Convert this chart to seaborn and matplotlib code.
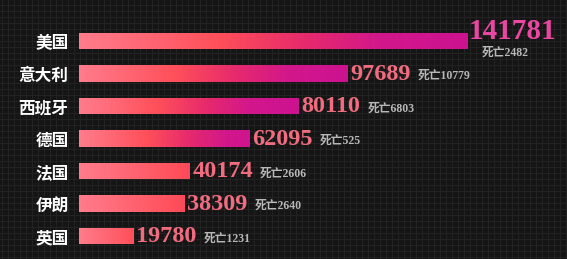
import numpy as np
import pandas as pd
import matplotlib
matplotlib.use("Agg")
import matplotlib.pyplot as plt
from matplotlib.colors import LinearSegmentedColormap
import seaborn as sns

countries = ["美国", "意大利", "西班牙", "德国", "法国", "伊朗", "英国"]
cases = [141781, 97689, 80110, 62095, 40174, 38309, 19780]
deaths = [2482, 10779, 6803, 525, 2606, 2640, 1231]

df = pd.DataFrame({"country": countries, "cases": cases})

sns.set_theme(style="dark")
plt.rcParams["font.family"] = ["Noto Sans CJK SC", "DejaVu Sans"]

W, H = 567, 259
fig = plt.figure(figsize=(W / 100, H / 100), dpi=100)
bg = "#151515"
fig.patch.set_facecolor(bg)

# textured grid background
axb = fig.add_axes([0, 0, 1, 1], zorder=-5)
axb.set_facecolor(bg)
axb.set_xlim(0, W)
axb.set_ylim(0, H)
for x in np.arange(2, W, 6):
    axb.axvline(x, color="#232323", lw=0.7)
for y in np.arange(2, H, 6):
    axb.axhline(y, color="#232323", lw=0.7)
axb.axis("off")

left = 79 / W
width = 488 / W
top_px, bot_px = 24.75, 252.25
ax = fig.add_axes([left, 1 - bot_px / H, width, (bot_px - top_px) / H])
ax.set_facecolor("none")
sns.barplot(data=df, x="cases", y="country", ax=ax, width=0.5, color="#ff5a6a", saturation=1)
xmax = cases[0] * 488 / 389
ax.set_xlim(0, xmax)
ax.set_ylim(6.5, -0.5)
for s in ax.spines.values():
    s.set_visible(False)
ax.set_xticks([])
ax.set_xlabel("")
ax.set_ylabel("")
ax.tick_params(axis="y", length=0, pad=7.5)
for lab in ax.get_yticklabels():
    lab.set_color("white")
    lab.set_fontweight("bold")
    lab.set_fontsize(12)
ax.grid(False)

cmap = LinearSegmentedColormap.from_list(
    "g", [(0, "#ff7c8c"), (0.36, "#ff4f5a"), (0.58, "#e62a6c"), (0.78, "#d2178c"), (1, "#cc1290")])
grad_end = [1.0, 1.0, 1.0, 0.9, 0.4, 0.4, 0.36]
for p, f in zip(ax.patches, grad_end):
    x0, y0 = p.get_x(), p.get_y()
    w, h = p.get_width(), p.get_height()
    p.set_facecolor("none")
    p.set_edgecolor("none")
    g = cmap(np.linspace(0, f, 256))[None, :, :]
    im = ax.imshow(g, extent=[x0, x0 + w, y0 + h, y0], aspect="auto", zorder=2, interpolation="bilinear")
    im.set_clip_path(p)
ax.set_xlim(0, xmax)
ax.set_ylim(6.5, -0.5)

valfam = ["Liberation Serif", "Noto Sans CJK SC"]
pink = "#f26c80"
grey = "#b8b8b8"
for i, (c, d) in enumerate(zip(cases, deaths)):
    if i == 0:
        t = ax.text(c + xmax * 0.002, i - 0.3, f"{c}", color="#ea46a2", fontsize=21, fontweight="bold",
                    family=valfam, va="center", ha="left")
        ax.text(c + xmax * 0.027, i + 0.36, f"死亡{d}", color=grey, fontsize=8.5, fontweight="bold",
                family=valfam, va="center", ha="left")
    else:
        t = ax.text(c + xmax * 0.006, i + 0.03, f"{c}", color=pink, fontsize=17.5, fontweight="bold",
                    family=valfam, va="center", ha="left")
        ax.annotate(f"死亡{d}", xy=(1, 0.5), xycoords=t, xytext=(5, -1), textcoords="offset points",
                    color=grey, fontsize=8.5, fontweight="bold", family=valfam, va="center", ha="left")

fig.savefig("out.png", dpi=100, facecolor=bg)
